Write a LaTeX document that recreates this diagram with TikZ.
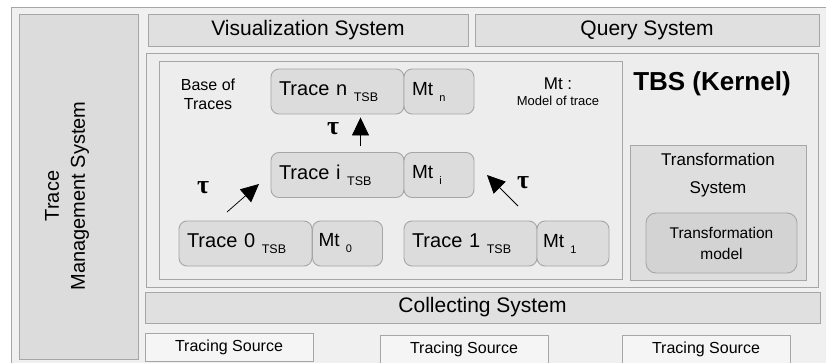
\documentclass[tikz,border=0pt]{standalone}
\usepackage{fontspec}
\setmainfont{Liberation Sans}
\newfontfamily\taufont{Liberation Serif}
\usetikzlibrary{arrows.meta}
\definecolor{bgc}{HTML}{F0F0F0}
\definecolor{bordc}{HTML}{A6A6A6}
\definecolor{sysc}{HTML}{E0E0E0}
\definecolor{kerc}{HTML}{EDEDED}
\definecolor{trc}{HTML}{DCDCDC}
\definecolor{tsc}{HTML}{DEDEDE}
\definecolor{tmc}{HTML}{D3D3D3}
\definecolor{srcc}{HTML}{F5F5F5}
\newcommand{\sbt}[1]{\raisebox{-6pt}{\fontsize{12.5}{14}\selectfont #1}}
\newcommand{\sbm}[1]{\raisebox{-6pt}{\fontsize{11}{13}\selectfont #1}}
\begin{document}
\begin{tikzpicture}[x=1pt,y=-1pt,
  sysbox/.style={draw=bordc, fill=sysc, line width=0.9pt, inner sep=0pt, outer sep=0pt},
  trbox/.style={draw=bordc, fill=trc, line width=0.9pt, rounded corners=8pt,
    minimum height=45pt, inner xsep=8pt, inner ysep=0pt, text width=117pt, align=left,
    font=\fontsize{20}{24}\selectfont},
  mtbox/.style={draw=bordc, fill=trc, line width=0.9pt, rounded corners=8pt,
    minimum height=45pt, inner xsep=8pt, inner ysep=0pt, text width=54pt, align=left,
    font=\fontsize{19}{23}\selectfont},
  srcbox/.style={draw=bordc, fill=srcc, line width=0.9pt, minimum width=168pt, minimum height=28pt,
    inner sep=0pt, font=\fontsize{16}{19}\selectfont},
  arr/.style={line width=0.75pt, -{Triangle[length=18pt,width=17pt]}},
  tau/.style={font=\taufont\bfseries\fontsize{26}{28}\selectfont, inner sep=0pt}
]
\useasboundingbox (0,0) rectangle (826,363);
\fill[white] (0,0) rectangle (826,363);
\fill[bgc] (11,7) rectangle (826,363);
\draw[bordc, line width=0.9pt] (11,363) -- (11,7) -- (826,7);

% left panel
\node[sysbox, fill=trc, minimum width=119pt, minimum height=345pt] (tms) at (78.5,186.5) {};
\node[rotate=90, align=center, font=\fontsize{20}{26}\selectfont] (tmsl) at (67,196) {Trace\\Management System};

% top systems
\node[sysbox, minimum width=320pt, minimum height=32pt, font=\fontsize{21}{25}\selectfont] (vis) at (308,30) {Visualization System};
\node[sysbox, minimum width=344pt, minimum height=32pt, font=\fontsize{21}{25}\selectfont] (query) at (647,30) {Query System};

% kernel
\node[sysbox, fill=kerc, minimum width=672pt, minimum height=234pt] (tbs) at (482,170) {};
\node[sysbox, fill=kerc, minimum width=463pt, minimum height=218pt] (base) at (390.5,170) {};
\node[font=\bfseries\fontsize{26}{30}\selectfont, inner sep=0pt] (tbsl) at (712,84) {TBS (Kernel)};

\node[align=center, font=\fontsize{16}{19}\selectfont, inner sep=0pt] (basel) at (208,94) {Base of\\Traces};
\node[align=center, inner sep=0pt] (mtl) at (558,92) {{\fontsize{17}{19}\selectfont Mt :}\\[4pt]{\fontsize{13}{15}\selectfont Model of trace}};

% traces
\node[trbox] (tracen) at (337.5,91.5) {Trace n \sbt{TSB}};
\node[mtbox] (mtn) at (439,91.5) {Mt \sbm{n}};
\node[trbox] (tracei) at (337.5,175) {Trace i \sbt{TSB}};
\node[mtbox] (mti) at (439,175) {Mt \sbm{i}};
\node[trbox] (trace0) at (245.5,243.5) {Trace 0 \sbt{TSB}};
\node[mtbox, inner xsep=6pt, text width=58pt] (mt0) at (347.5,243.5) {Mt \sbm{0}};
\node[trbox] (trace1) at (470.5,243.5) {Trace 1 \sbt{TSB}};
\node[mtbox, inner xsep=6pt, text width=60pt] (mt1) at (573,243.5) {Mt \sbm{1}};

% arrows
\draw[arr, shorten <=6pt, shorten >=3pt] ([xshift=23pt]tracei.north) -- ([xshift=23pt]tracen.south);
\coordinate (la1) at (227,212);
\coordinate (la2) at (259,184);
\coordinate (ra1) at (518,206);
\coordinate (ra2) at (487,175);
\draw[arr] (la1) -- (la2);
\draw[arr] (ra1) -- (ra2);
\node[tau] (t1) at (333,129) {τ};
\node[tau] (t2) at (203,188) {τ};
\node[tau] (t3) at (523,183) {τ};

% transformation
\node[sysbox, fill=tsc, minimum width=176pt, minimum height=135pt] (tsys) at (718,212.5) {};
\node[align=center, font=\fontsize{17}{28}\selectfont, inner sep=0pt] (tsysl) at (718,175) {Transformation\\System};
\node[draw=bordc, fill=tmc, line width=0.9pt, rounded corners=10pt, minimum width=151pt, minimum height=60pt,
  inner sep=0pt, align=center, font=\fontsize{15.5}{21}\selectfont] (tmodel) at (721.5,243) {Transformation\\model};

% collecting
\node[sysbox, minimum width=675pt, minimum height=31pt, font=\fontsize{21}{25}\selectfont] (coll) at (482.5,307.5) {Collecting System};

% sources
\node[srcbox] (ts1) at (229,347) {Tracing Source};
\node[srcbox] (ts2) at (464,349.5) {Tracing Source};
\node[srcbox] (ts3) at (706,349.5) {Tracing Source};
\end{tikzpicture}
\end{document}
